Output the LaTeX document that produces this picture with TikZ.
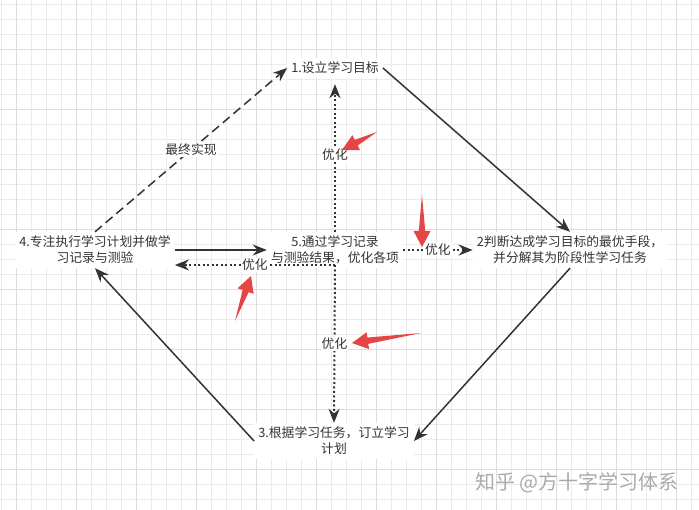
\documentclass[tikz,border=0pt]{standalone}
\usepackage{fontspec}
\newfontfamily\cjk{Noto Sans CJK SC}
\usetikzlibrary{arrows.meta,calc}
\definecolor{wenzi}{HTML}{333333}
\definecolor{hongse}{HTML}{E64545}
\definecolor{wangge}{HTML}{EBEBEB}
\definecolor{wanggecu}{HTML}{DDDDDD}
\definecolor{shuiyin}{HTML}{AAAAAA}

\tikzset{
  buzhou/.style={font=\cjk\fontsize{12.8}{16}\selectfont, text=wenzi, fill=white, align=center, inner sep=4pt},
  biaoqian/.style={font=\cjk\fontsize{12.8}{16}\selectfont, text=wenzi, fill=white, inner sep=1pt},
  shixian/.style={draw=wenzi, line width=1.5pt, -{Stealth[length=14pt,width=11pt]}},
  xuxian/.style={shixian, dash pattern=on 9pt off 5pt},
  dianxian/.style={shixian, line width=2pt, dash pattern=on 2pt off 2.5pt},
}

% red callout arrow: tail, tip
\newcommand{\hongjiantou}[2]{%
  \fill[hongse] (#1) -- ($(#2)!16pt!(#1)!3.2pt!90:(#1)$) -- ($(#2)!16pt!(#1)!8.5pt!90:(#1)$)
    -- (#2) -- ($(#2)!16pt!(#1)!8.5pt!-90:(#1)$) -- ($(#2)!16pt!(#1)!3.2pt!-90:(#1)$) -- cycle;}

\begin{document}
\begin{tikzpicture}[x=1pt,y=-1pt]
    \useasboundingbox (0,0) rectangle (699,510);

    % ------ grille ------
    \foreach \x in {1.7,16.7,...,699} \draw[wangge,line width=0.8pt] (\x,0) -- (\x,510);
    \foreach \y in {4.3,19.3,...,510} \draw[wangge,line width=0.8pt] (0,\y) -- (699,\y);
    \foreach \x in {16.7,76.7,...,699} \draw[wanggecu,line width=0.8pt] (\x,0) -- (\x,510);
    \foreach \y in {49.3,109.3,...,510} \draw[wanggecu,line width=0.8pt] (0,\y) -- (699,\y);

    % ------ etapes ------
    \node[buzhou] (mubiao)   at (335,68)  {1.设立学习目标};
    \node[buzhou] (shouduan) at (570,250) {2判断达成学习目标的最优手段，\\并分解其为阶段性学习任务};
    \node[buzhou] (jihua)    at (334,441) {3.根据学习任务，订立学习\\计划};
    \node[buzhou] (zhixing)  at (95,250)  {4.专注执行学习计划并做学\\习记录与测验};
    \node[buzhou] (youhua)   at (335,250) {5.通过学习记录\\与测验结果，优化各项};

    \coordinate (jiao) at (335,265);

    % ------ boucle ------
    \draw[shixian] (mubiao.east) -- (shouduan.north);
    \draw[shixian] (shouduan.south) -- (jihua.east);
    \draw[shixian] (jihua.west) -- (zhixing.south);
    \draw[xuxian] (zhixing.north) -- node[biaoqian] {最终实现} (mubiao.west);
    \draw[shixian] (zhixing.east) -- (youhua.west);

    % ------ optimisation ------
    \draw[dianxian] (jiao) -- node[biaoqian] {优化} (zhixing.east |- jiao);
    \draw[dianxian,shorten >=6pt] (youhua.north) -- node[biaoqian] {优化} (mubiao.south);
    \draw[dianxian] (jiao) -- node[biaoqian] {优化} (jihua.north);
    \draw[dianxian] (youhua.east) -- node[biaoqian] {优化} (shouduan.west);

    % ------ fleches rouges ------
    \coordinate (a1) at (377,132); \coordinate (a2) at (342,150);
    \coordinate (b1) at (422,195); \coordinate (b2) at (422,247);
    \coordinate (c1) at (235,321); \coordinate (c2) at (251,276);
    \coordinate (d1) at (421,333); \coordinate (d2) at (352,343);
    \hongjiantou{a1}{a2}
    \hongjiantou{b1}{b2}
    \hongjiantou{c1}{c2}
    \hongjiantou{d1}{d2}

    \node[font=\cjk\fontsize{20}{24}\selectfont, text=shuiyin] (shuiyin) at (577,483) {知乎 @方十字学习体系};
\end{tikzpicture}
\end{document}
